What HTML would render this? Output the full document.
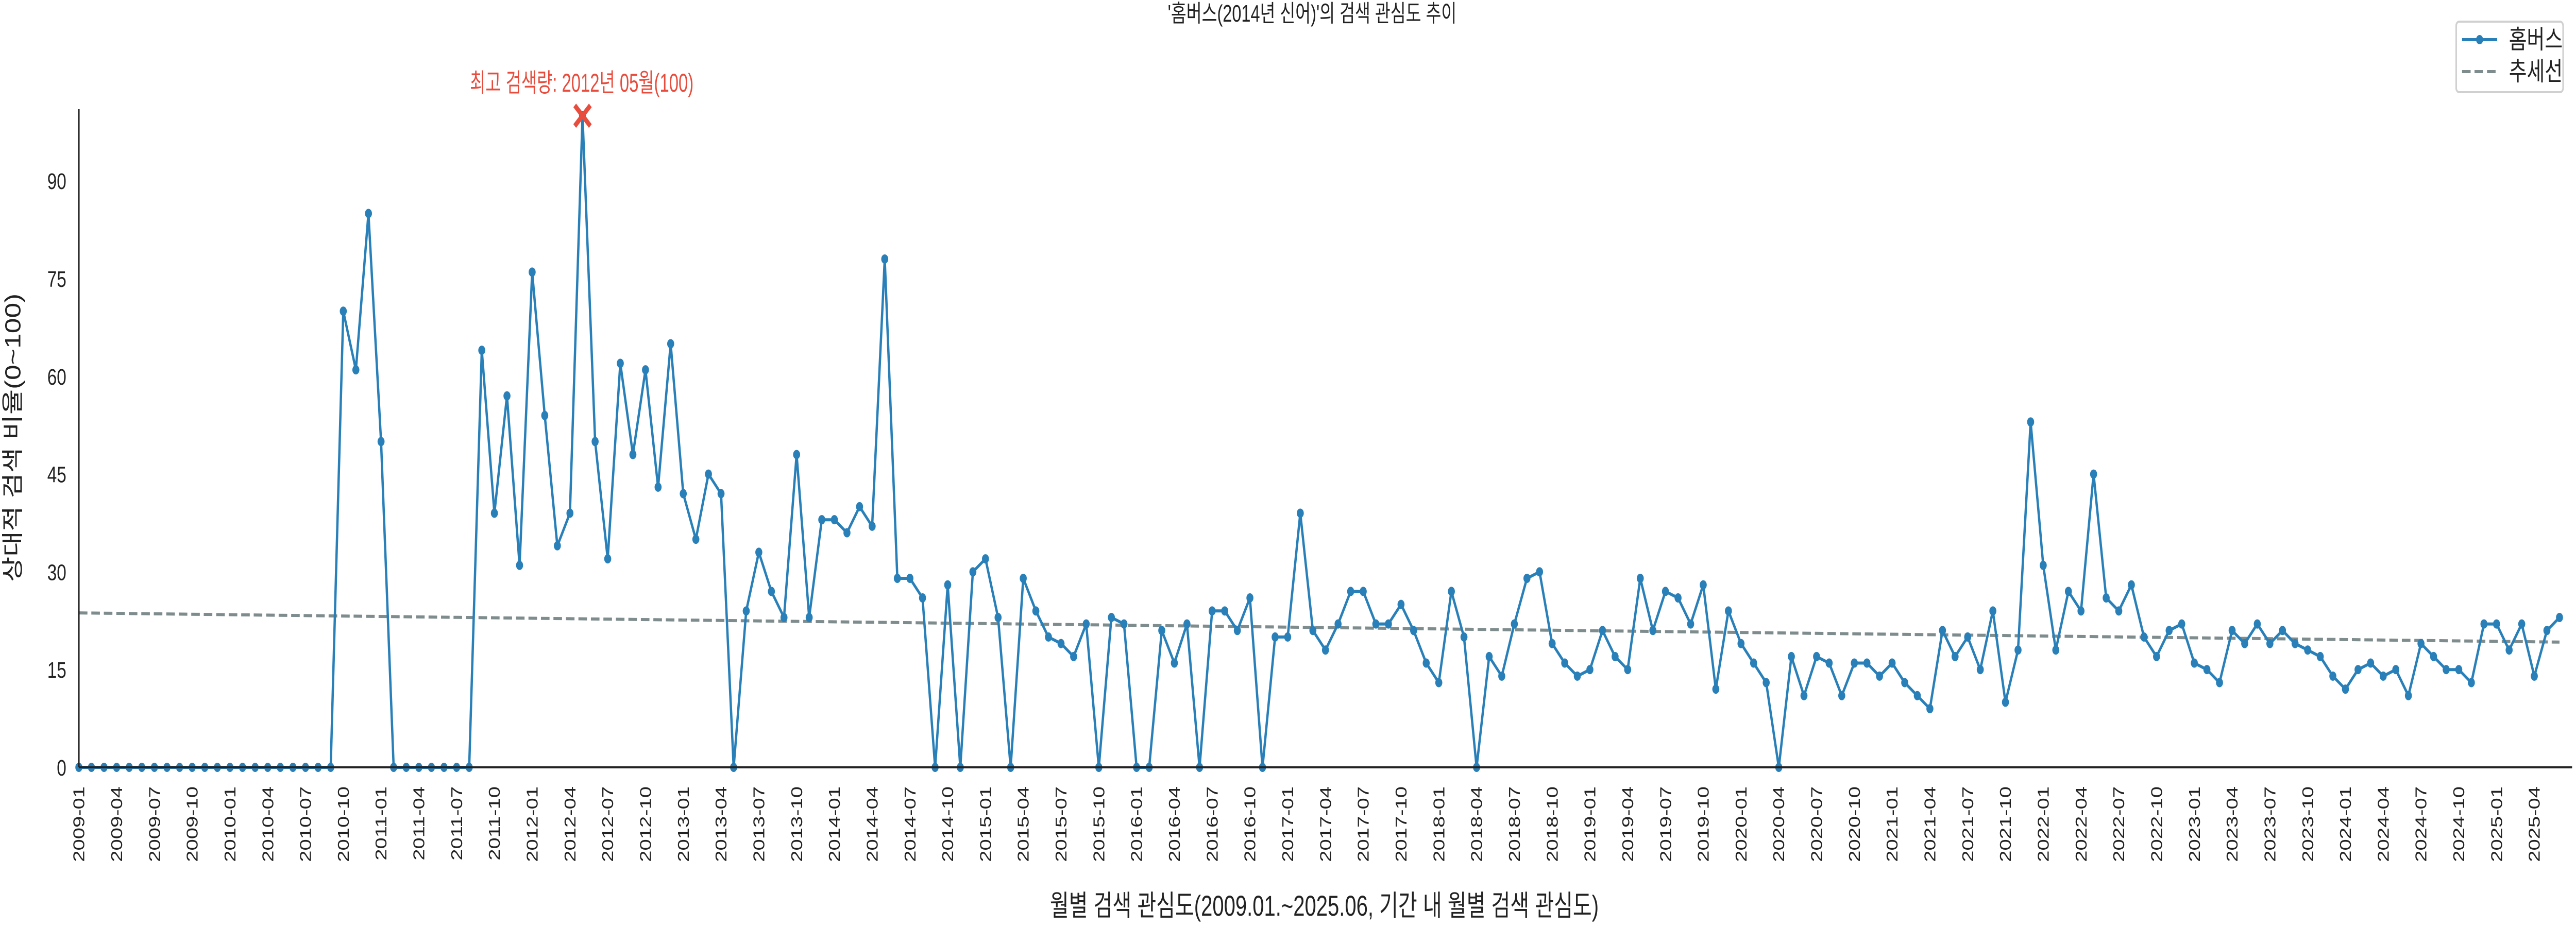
<!DOCTYPE html>
<html><head><meta charset="utf-8"><style>
html,body{margin:0;padding:0;background:#fff;overflow:hidden;width:100%;height:100%;}
svg{display:block;width:100vw;height:100vh;font-family:"Liberation Sans","Noto Sans CJK KR",sans-serif;}
</style></head><body>
<svg id="chart" viewBox="0 0 6600 1800" preserveAspectRatio="none" xmlns="http://www.w3.org/2000/svg">
<rect x="0" y="0" width="6600" height="1800" fill="#fff"/>
<text x="3362" y="42" text-anchor="middle" font-size="46" fill="#222" textLength="740" lengthAdjust="spacingAndGlyphs">'홈버스(2014년 신어)'의 검색 관심도 추이</text>
<g id="plot"></g>
<text x="3393" y="1778" text-anchor="middle" font-size="56" fill="#222" textLength="1406" lengthAdjust="spacingAndGlyphs">월별 검색 관심도(2009.01.~2025.06, 기간 내 월별 검색 관심도)</text>
<text transform="translate(52,850) rotate(-90)" text-anchor="middle" font-size="56" fill="#222" textLength="560" lengthAdjust="spacingAndGlyphs">상대적 검색 비율(0~100)</text>
<text x="1204" y="178" font-size="50" fill="#e74c3c" textLength="573" lengthAdjust="spacingAndGlyphs">최고 검색량: 2012년 05월(100)</text>
<g>
<rect x="6293" y="42" width="274" height="137" rx="8" fill="#fff" stroke="#d0d0d0" stroke-width="4"/>
<line x1="6308" y1="77" x2="6398" y2="77" stroke="#2980b9" stroke-width="6"/>
<circle cx="6353" cy="77" r="9" fill="#2980b9"/>
<text x="6428" y="94" font-size="50" fill="#222">홈버스</text>
<line x1="6308" y1="139" x2="6398" y2="139" stroke="#7f8c8d" stroke-width="6" stroke-dasharray="22,10"/>
<text x="6428" y="156" font-size="50" fill="#222">추세선</text>
</g>
</svg>
<script>
const startYear = 2009;
const values = [
0,0,0,0,0,0,0,0,0,0,0,0,
0,0,0,0,0,0,0,0,0,70,61,85,
50,0,0,0,0,0,0,0,64,39,57,31,
76,54,34,39,100,50,32,62,48,61,43,65,
42,35,45,42,0,24,33,27,23,48,23,38,
38,36,40,37,78,29,29,26,0,28,0,30,
32,23,0,29,24,20,19,17,22,0,23,22,
0,0,21,16,22,0,24,24,21,26,0,20,
20,39,21,18,22,27,27,22,22,25,21,16,
13,27,20,0,17,14,22,29,30,19,16,14,
15,21,17,15,29,21,27,26,22,28,12,24,
19,16,13,0,17,11,17,16,11,16,16,14,
16,13,11,9,21,17,20,15,24,10,18,53,
31,18,27,24,45,26,24,28,20,17,21,22,
16,15,13,21,19,22,19,21,19,18,17,14,
12,15,16,14,15,11,19,17,15,15,13,22,
22,18,22,14,21,23
];
const yTicks = [0,15,30,45,60,75,90];
const xMin = 0, xMax = 198, yMin = 0, yMax = 101;
const L = 202, R = 6590, T = 212, B = 1490;
const NS = 'http://www.w3.org/2000/svg';
const plot = document.getElementById('plot');
function xs(i){ return L + (i - xMin) / (xMax - xMin) * (R - L); }
function ys(v){ return B - (v - yMin) / (yMax - yMin) * (B - T); }
function mk(tag, attrs){ const e = document.createElementNS(NS, tag); for (const k in attrs) e.setAttribute(k, attrs[k]); plot.appendChild(e); return e; }
function label(i){ const y = startYear + Math.floor(i/12); const m = (i%12)+1; return y + '-' + (m<10?'0':'') + m; }

yTicks.forEach(t => {
  const tx = mk('text', {x: 170, y: ys(t) + 16, 'text-anchor': 'end', 'font-size': 44, fill: '#222'});
  tx.textContent = t;
  
  
});
for (let i = 0; i < values.length; i += 3) {
  const x = xs(i);
  const tx = mk('text', {transform: 'translate(' + (x + 14) + ',1527) rotate(-90)', 'text-anchor': 'end', 'font-size': 40, fill: '#222'});
  tx.textContent = label(i);
  
  
}
const n = values.length;
let sx=0, sy=0, sxy=0, sxx=0;
values.forEach((v,i)=>{ sx+=i; sy+=v; sxy+=i*v; sxx+=i*i; });
const slope = (n*sxy - sx*sy) / (n*sxx - sx*sx);
const icpt = (sy - slope*sx) / n;
const trend = mk('line', {x1: xs(0), y1: ys(icpt), x2: xs(n-1), y2: ys(icpt + slope*(n-1)), stroke: '#7f8c8d', 'stroke-width': 6, 'stroke-dasharray': '22,10'});


const pts = values.map((v,i) => xs(i).toFixed(1) + ',' + ys(v).toFixed(1)).join(' ');
const line = mk('polyline', {points: pts, fill: 'none', stroke: '#2980b9', 'stroke-width': 6, 'stroke-linejoin': 'round'});


values.forEach((v,i) => {
  const c = mk('circle', {cx: xs(i), cy: ys(v), r: 9, fill: '#2980b9'});
  
  
});
const ax = mk('line', {x1: L, y1: B, x2: R, y2: B, stroke: '#222', 'stroke-width': 4});


const ay = mk('line', {x1: L, y1: T, x2: L, y2: B, stroke: '#222', 'stroke-width': 4});


let pi = 0; values.forEach((v,i)=>{ if (v > values[pi]) pi = i; });
const px = xs(pi), py = ys(values[pi]);
const pk = mk('path', {d: 'M'+(px-20)+','+(py-20)+'L'+(px+20)+','+(py+20)+'M'+(px+20)+','+(py-20)+'L'+(px-20)+','+(py+20), stroke: '#e74c3c', 'stroke-width': 10});


</script>
</body></html>
